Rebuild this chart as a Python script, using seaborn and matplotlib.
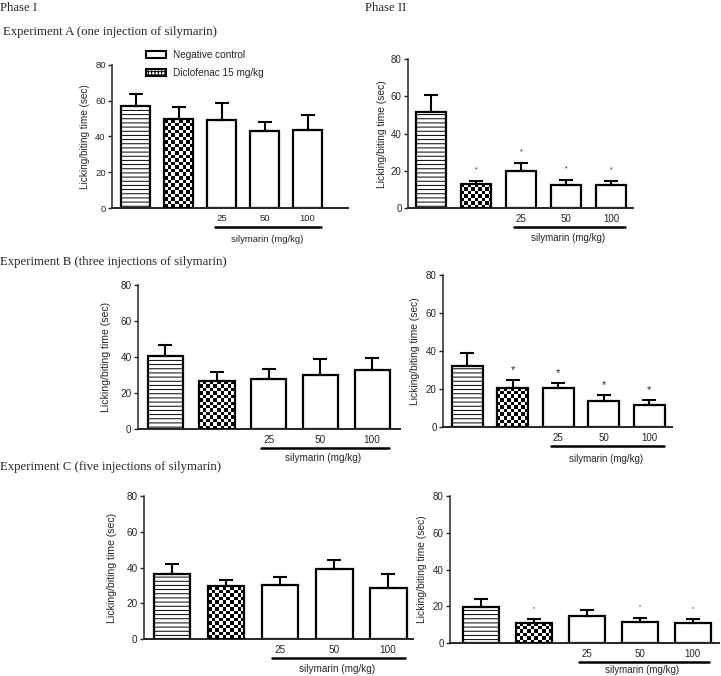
import numpy as np
import pandas as pd
import matplotlib
matplotlib.use("Agg")
import matplotlib.pyplot as plt
from matplotlib.patches import Patch
import seaborn as sns

# Data: group means and SEM (sec)
groups = ["Negative control", "Diclofenac 15 mg/kg", "Sil 25", "Sil 50", "Sil 100"]
dose_labels = ["25", "50", "100"]

a1_mean = [57.0, 49.5, 49.2, 43.2, 43.6]
a1_sem = [6.5, 6.7, 9.6, 4.7, 8.4]
a2_mean = [51.7, 12.9, 20.0, 12.3, 12.2]
a2_sem = [8.9, 1.8, 4.0, 2.5, 2.5]
b1_mean = [40.7, 26.4, 27.9, 30.1, 32.8]
b1_sem = [5.7, 5.4, 5.7, 8.7, 6.6]
b2_mean = [31.9, 20.7, 20.7, 13.5, 11.6]
b2_sem = [7.3, 3.8, 2.4, 3.5, 2.4]
c1_mean = [36.5, 29.6, 30.3, 38.9, 28.5]
c1_sem = [5.4, 3.5, 4.5, 5.2, 8.0]
c2_mean = [19.6, 10.9, 14.9, 11.6, 10.9]
c2_sem = [4.2, 2.0, 2.9, 2.0, 2.0]

a2_stars = ["", "*", "*", "*", "*"]
b2_stars = ["", "*", "*", "*", "*"]
c2_stars = ["", "*", "", "*", "*"]

sns.set_style("ticks")
plt.rcParams["font.family"] = ["Liberation Sans", "DejaVu Sans"]
plt.rcParams["hatch.linewidth"] = 0.7

W, H = 721, 676
fig = plt.figure(figsize=(W / 100, H / 100), dpi=100)


def add_ax(l, r, t, b):
    return fig.add_axes([l / W, 1 - b / H, (r - l) / W, (b - t) / H])


def panel(box, xlim, means, sems, fs, ylab_off, sil_off=31, stars=None, star_fs=6,
          star_off=7):
    ax = add_ax(*box)
    df = pd.DataFrame({"group": groups, "mean": means})
    sns.barplot(data=df, x="group", y="mean", order=groups, color="white",
                edgecolor="black", linewidth=1.6, width=0.68, errorbar=None, ax=ax)
    ax.errorbar(range(len(means)), means, yerr=[np.zeros(len(sems)), sems], fmt="none",
                ecolor="black", elinewidth=1.5, capsize=5, capthick=1.5, zorder=1)

    bars = ax.patches
    bars[0].set_hatch("----")
    # checkerboard fill for the diclofenac bar
    p = bars[1]
    x0, w, h = p.get_x(), p.get_width(), p.get_height()
    axw = box[1] - box[0]
    axh = box[3] - box[2]
    pxx = axw / (xlim[1] - xlim[0])
    pxy = axh / 80
    nx = max(1, int(round(w * pxx / 3.5)))
    ny = max(1, int(round(h * pxy / 3.5)))
    checker = np.add.outer(np.arange(ny), np.arange(nx)) % 2
    im = ax.imshow(checker, cmap="gray", extent=(x0, x0 + w, 0, h), origin="lower",
                   interpolation="nearest", aspect="auto", zorder=2)
    im.set_clip_path(p)
    p.set_facecolor("none")
    p.set_zorder(3)
    ax.set_xlim(*xlim)
    ax.set_ylim(0, 80)
    ax.set_yticks([0, 20, 40, 60, 80])

    if stars:
        for i, s in enumerate(stars):
            if s:
                ax.annotate(s, (i, means[i] + sems[i]), xytext=(0, star_off),
                            textcoords="offset points", ha="center", va="baseline",
                            fontsize=star_fs)

    ax.set_xticks([2, 3, 4])
    ax.set_xticklabels(dose_labels, fontsize=fs)
    ax.tick_params(axis="x", length=0, pad=4)
    ax.tick_params(axis="y", length=3, width=1, labelsize=fs, pad=1.5)
    ax.set_xlabel("")
    ax.set_ylabel("Licking/biting time (sec)", fontsize=fs + 0.4)
    ax.yaxis.set_label_coords(-ylab_off / axw, 0.5)
    sns.despine(ax=ax)
    ax.spines["left"].set_linewidth(1.1)
    ax.spines["bottom"].set_linewidth(1.4)

    # dose underline and label
    trans = ax.get_xaxis_transform()
    under = -19 / axh
    ax.plot([1.85, 4.32], [under, under], color="black", lw=1.8, transform=trans,
            clip_on=False)
    ax.text(3.05, -sil_off / axh, "silymarin (mg/kg)", transform=trans, ha="center",
            va="center", fontsize=fs)
    return ax


ax_a1 = panel((112, 348, 64.7, 208), (-0.55, 4.94), a1_mean, a1_sem, 6.8, 22, sil_off=32)
ax_a2 = panel((408, 633, 59.3, 208), (-0.51, 4.49), a2_mean, a2_sem, 7.0, 21, sil_off=30,
              stars=a2_stars, star_fs=5, star_off=7)
ax_b1 = panel((138, 400, 285, 429), (-0.53, 4.54), b1_mean, b1_sem, 7.2, 27, sil_off=29)
ax_b2 = panel((443, 672, 275, 427), (-0.53, 4.5), b2_mean, b2_sem, 7.0, 23, sil_off=32,
              stars=b2_stars, star_fs=8, star_off=5)
ax_c1 = panel((144, 413, 496, 639), (-0.52, 4.46), c1_mean, c1_sem, 7.2, 27, sil_off=30)
ax_c2 = panel((450, 719, 496, 643), (-0.58, 4.5), c2_mean, c2_sem, 7.0, 23, sil_off=27,
              stars=c2_stars, star_fs=4, star_off=7)

# legend of the first panel
handles = [Patch(facecolor="white", edgecolor="black", linewidth=1.5),
           Patch(facecolor="white", edgecolor="black", linewidth=1.5, hatch="+++++")]
fig.legend(handles, ["Negative control", "Diclofenac 15 mg/kg"], loc="upper left",
           bbox_to_anchor=(146 / W, 1 - 50 / H), frameon=False, fontsize=7.2,
           handlelength=2.0, handleheight=0.7, labelspacing=0.75, handletextpad=0.7,
           borderpad=0, borderaxespad=0)

serif = ["Liberation Serif", "DejaVu Serif"]
fig.text(0 / W, 1 - 8 / H, "Phase I", family=serif, fontsize=9.2, va="center")
fig.text(365 / W, 1 - 8 / H, "Phase II", family=serif, fontsize=9.2, va="center")
fig.text(3 / W, 1 - 32 / H, "Experiment A (one injection of silymarin)", family=serif,
         fontsize=9.2, va="center")
fig.text(0 / W, 1 - 262 / H, "Experiment B (three injections of silymarin)", family=serif,
         fontsize=9.2, va="center")
fig.text(0 / W, 1 - 467 / H, "Experiment C (five injections of silymarin)", family=serif,
         fontsize=9.2, va="center")

fig.savefig("out.png", dpi=100, facecolor="white")
